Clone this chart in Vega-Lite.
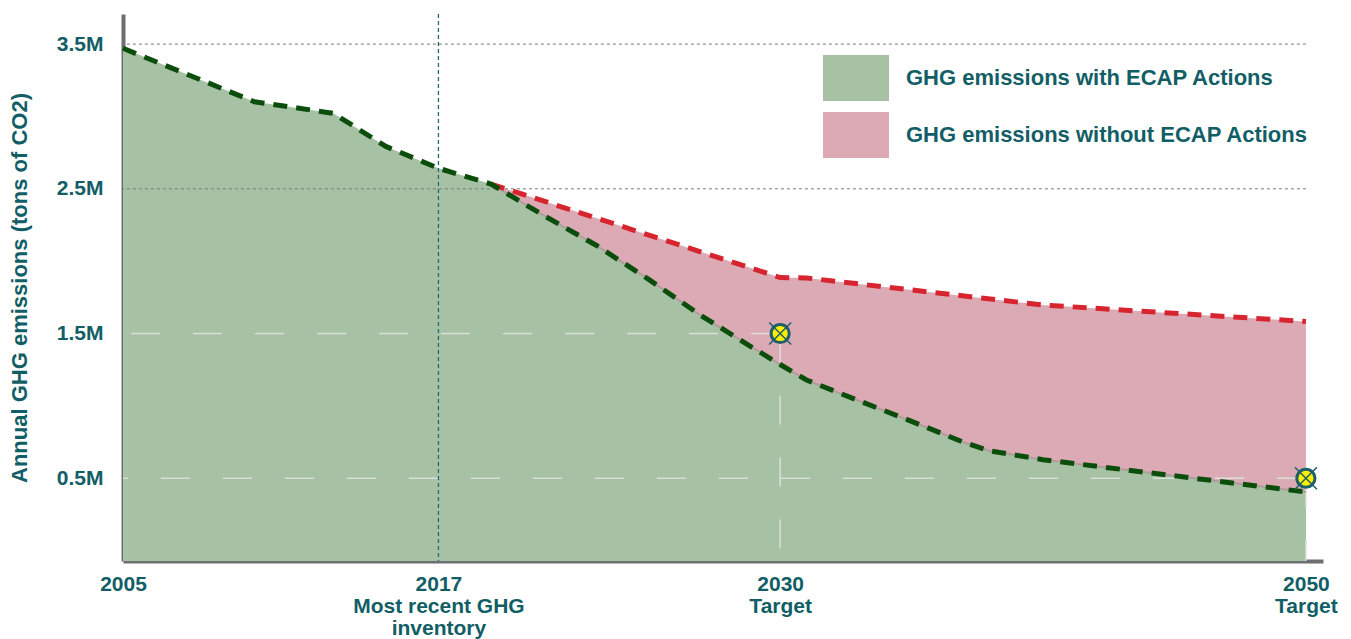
{
  "$schema": "https://vega.github.io/schema/vega-lite/v6.json",
  "width": 1200,
  "height": 547,
  "autosize": {"type": "none"},
  "padding": {"left": 123, "top": 14, "right": 28, "bottom": 78},
  "background": "white",
  "config": {
    "view": {"stroke": null},
    "font": "Liberation Sans"
  },
  "datasets": {
    "emissions": [
      {"year": 2005, "value": 3471000, "series": "GHG emissions with ECAP Actions"},
      {"year": 2010, "value": 3102000, "series": "GHG emissions with ECAP Actions"},
      {"year": 2013, "value": 3022000, "series": "GHG emissions with ECAP Actions"},
      {"year": 2015, "value": 2793000, "series": "GHG emissions with ECAP Actions"},
      {"year": 2017, "value": 2642000, "series": "GHG emissions with ECAP Actions"},
      {"year": 2019, "value": 2533000, "series": "GHG emissions with ECAP Actions"},
      {"year": 2021, "value": 2316000, "series": "GHG emissions with ECAP Actions"},
      {"year": 2023, "value": 2110000, "series": "GHG emissions with ECAP Actions"},
      {"year": 2025, "value": 1874000, "series": "GHG emissions with ECAP Actions"},
      {"year": 2027, "value": 1623000, "series": "GHG emissions with ECAP Actions"},
      {"year": 2029, "value": 1397000, "series": "GHG emissions with ECAP Actions"},
      {"year": 2030, "value": 1286000, "series": "GHG emissions with ECAP Actions"},
      {"year": 2031, "value": 1179000, "series": "GHG emissions with ECAP Actions"},
      {"year": 2033, "value": 1035000, "series": "GHG emissions with ECAP Actions"},
      {"year": 2035, "value": 893000, "series": "GHG emissions with ECAP Actions"},
      {"year": 2037, "value": 747000, "series": "GHG emissions with ECAP Actions"},
      {"year": 2038, "value": 688000, "series": "GHG emissions with ECAP Actions"},
      {"year": 2040, "value": 628000, "series": "GHG emissions with ECAP Actions"},
      {"year": 2050, "value": 405000, "series": "GHG emissions with ECAP Actions"},
      {"year": 2019, "value": 2533000, "series": "GHG emissions without ECAP Actions"},
      {"year": 2030, "value": 1887000, "series": "GHG emissions without ECAP Actions"},
      {"year": 2031, "value": 1884000, "series": "GHG emissions without ECAP Actions"},
      {"year": 2040, "value": 1697000, "series": "GHG emissions without ECAP Actions"},
      {"year": 2050, "value": 1583000, "series": "GHG emissions without ECAP Actions"}
    ],
    "targets": [
      {"year": 2030, "value": 1500000},
      {"year": 2050, "value": 500000}
    ],
    "grid": [
      {"year": 2050, "value": 2500000},
      {"year": 2050, "value": 3500000}
    ],
    "inventory": [
      {"year": 2017}
    ]
  },
  "layer": [
    {
      "data": {"name": "emissions"},
      "transform": [{"filter": "datum.series == 'GHG emissions without ECAP Actions'"}],
      "mark": {"type": "area", "opacity": 1},
      "encoding": {
        "x": {
          "field": "year", "type": "quantitative",
          "scale": {"domain": [2005, 2050.65], "nice": false, "zero": false},
          "axis": {
            "title": null,
            "values": [2005, 2017, 2030, 2050],
            "labelExpr": "datum.value == 2005 ? '2005' : datum.value == 2017 ? ['2017', 'Most recent GHG', 'inventory'] : datum.value == 2030 ? ['2030', 'Target'] : ['2050', 'Target']",
            "domain": true, "domainColor": "#6d6e71", "domainWidth": 4,
            "ticks": false, "tickSize": 0, "grid": false,
            "labelFont": "Liberation Sans", "labelFontSize": 21, "labelFontWeight": "bold",
            "labelColor": "#125e66", "labelPadding": 12, "labelLineHeight": 22,
            "labelFlush": false, "labelOverlap": false
          }
        },
        "y": {
          "field": "value", "type": "quantitative",
          "scale": {"domain": [-71900, 3708000], "nice": false, "zero": false},
          "axis": {
            "title": "Annual GHG emissions (tons of CO2)",
            "values": [500000, 1500000, 2500000, 3500000],
            "labelExpr": "format(datum.value / 1000000, '.1f') + 'M'",
            "domain": true, "domainColor": "#6d6e71", "domainWidth": 4,
            "ticks": false, "tickSize": 0, "grid": false,
            "labelFont": "Liberation Sans", "labelFontSize": 21, "labelFontWeight": "bold",
            "labelColor": "#125e66", "labelPadding": 20,
            "titleFont": "Liberation Sans", "titleFontSize": 22, "titleFontWeight": "bold",
            "titleColor": "#125e66", "titlePadding": 25
          }
        },
        "y2": {"datum": -71900},
        "color": {
          "field": "series", "type": "nominal",
          "scale": {
            "domain": ["GHG emissions with ECAP Actions", "GHG emissions without ECAP Actions"],
            "range": ["#a7c1a5", "#dcaab5"]
          },
          "legend": {
            "orient": "none", "legendX": 700, "legendY": 31, "title": null,
            "symbolType": "M-1,-0.7H1V0.7H-1Z", "symbolSize": 4356,
            "symbolStrokeWidth": 0, "symbolOpacity": 1,
            "labelFont": "Liberation Sans", "labelFontSize": 22, "labelFontWeight": "bold",
            "labelColor": "#125e66", "labelOffset": 17, "rowPadding": -7.5,
            "labelLimit": 0, "padding": 0
          }
        }
      }
    },
    {
      "data": {"name": "emissions"},
      "transform": [{"filter": "datum.series == 'GHG emissions with ECAP Actions'"}],
      "mark": {"type": "area", "opacity": 1},
      "encoding": {
        "x": {"field": "year", "type": "quantitative"},
        "y": {"field": "value", "type": "quantitative"},
        "y2": {"datum": -71900},
        "color": {"field": "series", "type": "nominal"}
      }
    },
    {
      "data": {"name": "targets"},
      "mark": {"type": "rule", "color": "#d9e0d9", "strokeWidth": 1.5, "strokeDash": [29, 33]},
      "encoding": {
        "x": {"field": "year", "type": "quantitative"},
        "x2": {"datum": 2005},
        "y": {"field": "value", "type": "quantitative"}
      }
    },
    {
      "data": {"name": "targets"},
      "mark": {"type": "rule", "color": "#d9e0d9", "strokeWidth": 1.5, "strokeDash": [29, 33]},
      "encoding": {
        "x": {"field": "year", "type": "quantitative"},
        "y": {"field": "value", "type": "quantitative"},
        "y2": {"datum": -71900}
      }
    },
    {
      "data": {"name": "grid"},
      "mark": {"type": "rule", "color": "#7a7a7a", "strokeWidth": 1, "strokeDash": [3, 3]},
      "encoding": {
        "x": {"field": "year", "type": "quantitative"},
        "x2": {"datum": 2005},
        "y": {"field": "value", "type": "quantitative"}
      }
    },
    {
      "data": {"name": "inventory"},
      "mark": {"type": "rule", "color": "#1e6b73", "strokeWidth": 1.3, "strokeDash": [4, 3]},
      "encoding": {
        "x": {"field": "year", "type": "quantitative"}
      }
    },
    {
      "data": {"name": "emissions"},
      "transform": [{"filter": "datum.series == 'GHG emissions with ECAP Actions' && datum.year >= 2019"}],
      "mark": {"type": "line", "color": "#b09c9c", "strokeWidth": 2},
      "encoding": {
        "x": {"field": "year", "type": "quantitative"},
        "y": {"field": "value", "type": "quantitative"}
      }
    },
    {
      "data": {"name": "emissions"},
      "transform": [{"filter": "datum.series == 'GHG emissions without ECAP Actions'"}],
      "mark": {"type": "line", "color": "#d7252f", "strokeWidth": 5, "strokeDash": [14, 9], "strokeCap": "butt"},
      "encoding": {
        "x": {"field": "year", "type": "quantitative"},
        "y": {"field": "value", "type": "quantitative"}
      }
    },
    {
      "data": {"name": "emissions"},
      "transform": [{"filter": "datum.series == 'GHG emissions with ECAP Actions'"}],
      "mark": {"type": "line", "color": "#0b4d0b", "strokeWidth": 5, "strokeDash": [14, 9], "strokeCap": "butt"},
      "encoding": {
        "x": {"field": "year", "type": "quantitative"},
        "y": {"field": "value", "type": "quantitative"}
      }
    },
    {
      "data": {"name": "targets"},
      "mark": {"type": "point", "shape": "circle", "size": 330, "filled": true, "fill": "#ffee00", "stroke": "#1d5f6b", "strokeWidth": 3, "opacity": 1},
      "encoding": {
        "x": {"field": "year", "type": "quantitative"},
        "y": {"field": "value", "type": "quantitative"}
      }
    },
    {
      "data": {"name": "targets"},
      "mark": {"type": "point", "shape": "M-1,-1L1,1M-1,1L1,-1", "size": 484, "filled": false, "stroke": "#1d5f6b", "strokeWidth": 1.5, "opacity": 1},
      "encoding": {
        "x": {"field": "year", "type": "quantitative"},
        "y": {"field": "value", "type": "quantitative"}
      }
    }
  ]
}
